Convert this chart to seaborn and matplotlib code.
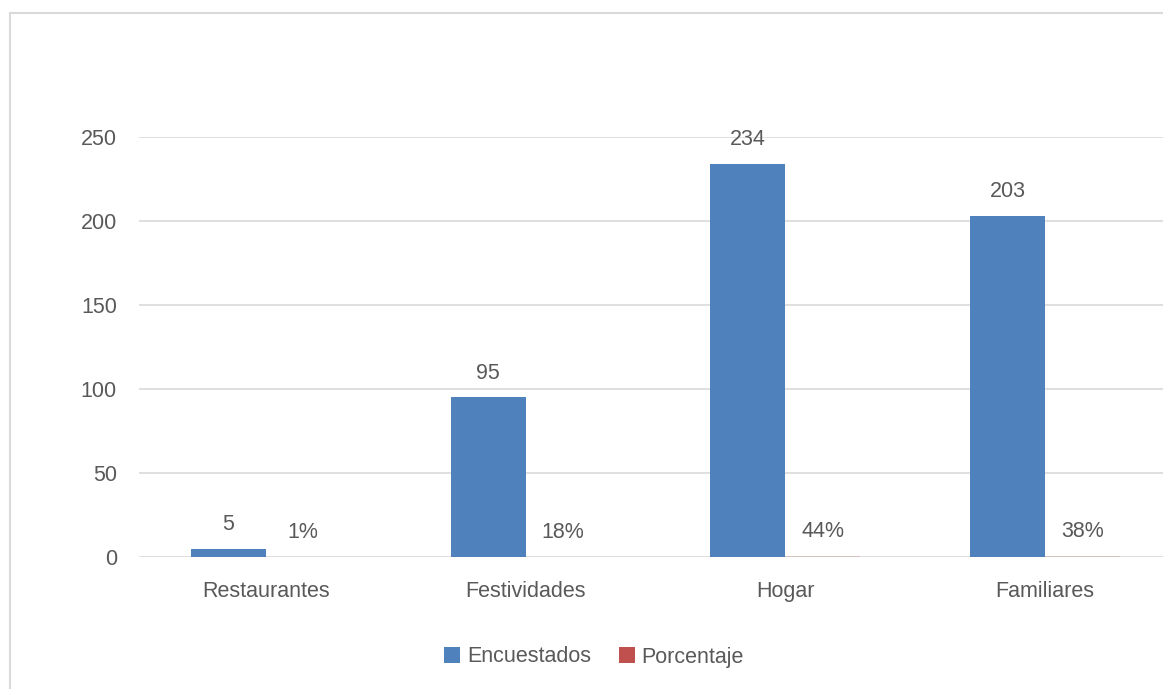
"""
Encuestados / Porcentaje por lugar de consumo, grouped bar chart.
"""

import matplotlib
matplotlib.use("Agg")
import matplotlib.pyplot as plt
from matplotlib.patches import Rectangle
import pandas as pd
import seaborn as sns

# Data
categories = ["Restaurantes", "Festividades", "Hogar", "Familiares"]
encuestados = [5, 95, 234, 203]
porcentaje = [0.01, 0.18, 0.44, 0.38]
series_names = ["Encuestados", "Porcentaje"]
y_ticks = [0, 50, 100, 150, 200, 250]

BLUE = "#4F81BD"
RED = "#C0504D"
TEXT = "#595959"
GRID = "#D9D9D9"

sns.set_theme(style="white")
plt.rcParams["font.family"] = ["Liberation Sans", "DejaVu Sans"]

df = pd.DataFrame({
    "categoria": categories * 2,
    "serie": [series_names[0]] * len(categories) + [series_names[1]] * len(categories),
    "valor": encuestados + porcentaje,
})

W, H = 1163, 689
fig = plt.figure(figsize=(W / 100, H / 100), dpi=100)
fig.patch.set_facecolor("white")

# plot area in pixels: left 139, bottom of data at y=557, 250 at y=137
left_px, right_px, top_px, bottom_px = 139, 1175, 137, 557
ax = fig.add_axes([left_px / W, 1 - bottom_px / H,
                   (right_px - left_px) / W, (bottom_px - top_px) / H])

sns.barplot(data=df, x="categoria", y="valor", hue="serie",
            palette=[BLUE, RED], width=0.577, gap=0, saturation=1,
            linewidth=0, ax=ax, legend=True)

ax.set_ylim(0, 250)
ax.set_xlim(-0.488, 3.5)
ax.set_yticks(y_ticks)
ax.set_xlabel("")
ax.set_ylabel("")
for s in ax.spines.values():
    s.set_visible(False)
ax.yaxis.grid(True, color=GRID, linewidth=1.2)
ax.set_axisbelow(True)
ax.tick_params(axis="both", length=0, labelsize=15.5, labelcolor=TEXT)
ax.tick_params(axis="y", pad=16)
ax.tick_params(axis="x", pad=17)

# the percentage bars are under a pixel tall; keep them behind the baseline
for bar in ax.containers[1]:
    bar.set_zorder(0.3)

# value labels
ax.bar_label(ax.containers[0], labels=[str(v) for v in encuestados],
             padding=10, fontsize=15.5, color=TEXT)
ax.bar_label(ax.containers[1], labels=[f"{v:.0%}" for v in porcentaje],
             padding=10, fontsize=15.5, color=TEXT)

# legend at bottom center
handles, labels = ax.get_legend_handles_labels()
ax.get_legend().remove()
fig.legend(handles, labels, loc="center", bbox_to_anchor=(594 / W, 1 - 657 / H),
           ncol=2, frameon=False, fontsize=15.5, labelcolor=TEXT,
           handlelength=0.75, handleheight=0.75, handletextpad=0.3,
           columnspacing=1.3)

# light chart border (only top and left are visible in the crop)
fig.patches.append(Rectangle((10 / W, -0.1), 1.2, 1 - 13 / H + 0.1,
                             transform=fig.transFigure, fill=False,
                             edgecolor=GRID, linewidth=1.5))

fig.savefig("out.png", dpi=100)
